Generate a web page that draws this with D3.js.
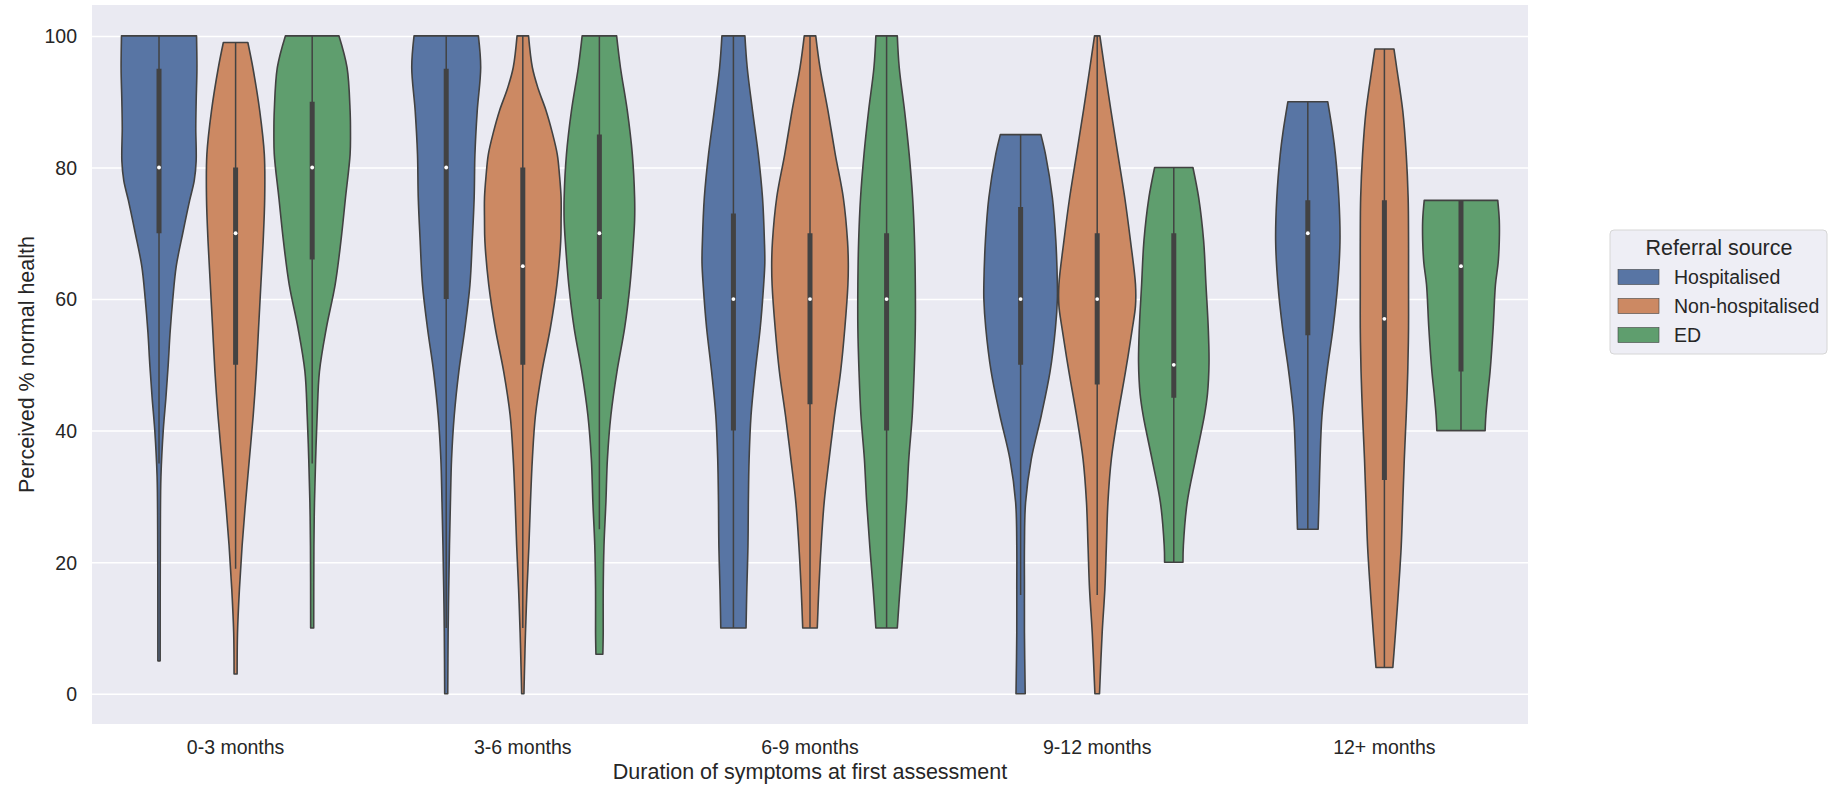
<!DOCTYPE html>
<html>
<head>
<meta charset="utf-8">
<script src="https://cdn.jsdelivr.net/npm/d3@7/dist/d3.min.js"></script>
<style>
  body { margin: 0; background: #fff; }
  svg { display: block; font-family: "Liberation Sans", Arial, sans-serif; }
</style>
</head>
<body>
<div id="chart"></div>
<script>
// Violin plot: perceived % normal health by symptom duration and referral source

const durations = ["0-3 months", "3-6 months", "6-9 months", "9-12 months", "12+ months"];
const sources = ["Hospitalised", "Non-hospitalised", "ED"];
const colors = ["#5875a4", "#cc8963", "#5f9e6e"];
const yTicks = [0, 20, 40, 60, 80, 100];

// box stats, [duration][source]
const q1s      = [[70, 50, 66], [60, 50, 60], [40, 44, 40], [50, 47, 45], [54.5, 32.5, 49]];
const medians  = [[80, 70, 80], [80, 65, 70], [60, 60, 60], [60, 60, 50], [70, 57, 65]];
const q3s      = [[95, 80, 90], [95, 80, 85], [73, 70, 70], [74, 70, 70], [75, 75, 75]];
const whiskLo  = [[35, 19, 35], [10, 10, 25], [10, 10, 10], [15, 15, 20], [25, 4, 40]];
const whiskHi  = [[100, 99, 100], [100, 100, 100], [100, 100, 100], [85, 100, 80], [90, 98, 75]];

// density outlines: [value, relative half width]
const dens03 = [
  [[5,.03],[25,.035],[33,.05],[40,.11],[45,.18],[50,.24],[55,.29],[60,.36],[65,.45],[70,.62],[75,.8],[78,.92],[81,.97],[86,.96],[90,.97],[95,.99],[100,.98]],
  [[3,.04],[9.3,.05],[15.9,.1],[22.5,.17],[29.1,.26],[35.7,.36],[42.3,.46],[49,.54],[55.6,.6],[62.2,.66],[68.8,.72],[75.4,.76],[82,.75],[88.6,.63],[95.2,.45],[99,.32]],
  [[10,.04],[22.5,.045],[29.1,.06],[35.7,.09],[42.3,.13],[49,.19],[55.6,.37],[62.2,.6],[68.8,.75],[75.4,.87],[82,.99],[85.3,1],[88.6,.99],[95.2,.91],[100,.7]]
];
const dens36 = [
  [[0,.04],[9.3,.05],[15.9,.065],[22.5,.085],[29.1,.11],[35.7,.14],[42.3,.21],[49,.33],[55.6,.49],[62.2,.62],[68.8,.68],[75.4,.73],[82,.75],[88.6,.81],[95.2,.9],[100,.84]],
  [[0,.03],[2.6,.04],[9.3,.07],[15.9,.11],[22.5,.16],[29.1,.2],[35.7,.25],[42.3,.33],[49,.5],[55.6,.72],[62.2,.89],[68.8,.99],[72,1],[75.4,1],[78.7,.96],[82,.9],[85.3,.77],[88.6,.61],[92,.4],[95.2,.25],[100,.15]],
  [[6,.09],[9.3,.1],[15.9,.1],[22.5,.12],[29.1,.17],[35.7,.21],[42.3,.3],[49,.46],[55.6,.66],[62.2,.8],[68.8,.89],[72,.92],[75.4,.92],[82,.86],[88.6,.73],[95.2,.55],[100,.45]]
];
const dens69 = [
  [[10,.33],[15.9,.35],[22.5,.38],[29.1,.39],[35.7,.41],[42.3,.46],[49,.57],[55.6,.7],[62.2,.79],[65.5,.82],[68.8,.81],[75.4,.76],[82,.65],[88.6,.5],[95.2,.36],[100,.3]],
  [[10,.19],[15.9,.23],[22.5,.29],[29.1,.37],[35.7,.5],[42.3,.64],[49,.8],[55.6,.91],[62.2,.99],[65.5,1],[68.8,.98],[75.4,.87],[82,.66],[88.6,.47],[95.2,.26],[100,.15]],
  [[10,.28],[15.9,.35],[22.5,.44],[29.1,.52],[35.7,.58],[42.3,.67],[49,.72],[55.6,.75],[62.2,.75],[68.8,.73],[75.4,.68],[82,.59],[88.6,.47],[95.2,.33],[100,.28]]
];
const dens912 = [
  [[0,.12],[9.3,.1],[15.9,.1],[22.5,.1],[29.1,.13],[35.7,.28],[42.3,.54],[49,.77],[55.6,.91],[60,.96],[62.2,.96],[68.8,.92],[75.4,.83],[82,.65],[85,.53]],
  [[0,.06],[9.3,.13],[15.9,.2],[22.5,.24],[29.1,.28],[35.7,.37],[42.3,.54],[49,.74],[55.6,.92],[59,1],[62.2,1],[68.8,.87],[75.4,.72],[82,.54],[88.6,.36],[95.2,.19],[100,.07]],
  [[20,.24],[22.5,.25],[29.1,.35],[35.7,.57],[42.3,.8],[45.6,.88],[50.3,.92],[55.6,.9],[62.2,.84],[68.8,.78],[75.4,.65],[80,.5]]
];
const dens12p = [
  [[25,.27],[29.1,.29],[35.7,.32],[42.3,.37],[49,.5],[55.6,.66],[62.2,.78],[68.8,.84],[75.4,.81],[82,.72],[85.3,.65],[90,.52]],
  [[4,.22],[9.3,.29],[15.9,.37],[22.5,.44],[29.1,.48],[35.7,.52],[42.3,.57],[49,.61],[55.6,.63],[62.2,.63],[68.8,.63],[75.4,.62],[82,.57],[88.6,.48],[95.2,.32],[98,.25]],
  [[40,.63],[42.3,.65],[45.6,.7],[49,.76],[55.6,.84],[62.2,.9],[65.5,.97],[68.8,1],[72,1],[75,.96]]
];
const densities = [dens03, dens36, dens69, dens912, dens12p];

const width = 1829, height = 788;
const margin = {top: 5, right: 301, bottom: 64, left: 92};
const innerW = width - margin.left - margin.right;
const innerH = height - margin.top - margin.bottom;
const gray = "#424242";
const textColor = "#262626";

const svg = d3.select("#chart")
  .append("svg")
  .attr("width", width)
  .attr("height", height);

const g = svg.append("g")
  .attr("transform", `translate(${margin.left},${margin.top})`);

const x = d3.scaleBand().domain(durations).range([0, innerW]);
const hue = d3.scaleBand().domain(sources)
  .range([x.bandwidth() * 0.1, x.bandwidth() * 0.9]);
const y = d3.scaleLinear().domain([-4.6, 104.7]).range([innerH, 0]);
const w = d3.scaleLinear().domain([0, 1]).range([0, hue.bandwidth() / 2]);

// background
g.append("rect")
  .attr("width", innerW)
  .attr("height", innerH)
  .attr("fill", "#eaeaf2");

// y axis + grid
const yAxis = g.append("g")
  .call(d3.axisLeft(y).tickValues(yTicks).tickSize(-innerW).tickPadding(15));
yAxis.select(".domain").remove();
yAxis.selectAll(".tick line").attr("stroke", "#fff").attr("stroke-width", 1.5);
yAxis.selectAll(".tick text")
  .attr("fill", textColor)
  .style("font-size", "19.5px")
  .attr("dy", "0.35em");

// x axis
const xAxis = g.append("g")
  .attr("transform", `translate(0,${innerH})`)
  .call(d3.axisBottom(x).tickSize(0).tickPadding(16));
xAxis.select(".domain").remove();
xAxis.selectAll(".tick text")
  .attr("fill", textColor)
  .style("font-size", "19.5px");

// violins
durations.forEach((dur, i) => {
  sources.forEach((src, j) => {
    const cx = x(dur) + hue(src) + hue.bandwidth() / 2;
    const pts = densities[i][j];

    const area = d3.area()
      .y(d => y(d[0]))
      .x0(d => cx - w(d[1]))
      .x1(d => cx + w(d[1]))
      .curve(d3.curveCatmullRom);

    g.append("path")
      .datum(pts)
      .attr("d", area)
      .attr("fill", colors[j])
      .attr("stroke", gray)
      .attr("stroke-width", 1.6)
      .attr("stroke-linejoin", "round");

    // whisker
    g.append("line")
      .attr("x1", cx).attr("x2", cx)
      .attr("y1", y(whiskLo[i][j])).attr("y2", y(whiskHi[i][j]))
      .attr("stroke", gray)
      .attr("stroke-width", 1.5);

    // box
    g.append("line")
      .attr("x1", cx).attr("x2", cx)
      .attr("y1", y(q1s[i][j])).attr("y2", y(q3s[i][j]))
      .attr("stroke", gray)
      .attr("stroke-width", 5);

    // median
    g.append("circle")
      .attr("cx", cx)
      .attr("cy", y(medians[i][j]))
      .attr("r", 1.9)
      .attr("fill", "#fff");
  });
});

// axis titles
svg.append("text")
  .attr("x", margin.left + innerW / 2)
  .attr("y", 779)
  .attr("text-anchor", "middle")
  .attr("fill", textColor)
  .style("font-size", "21.5px")
  .text("Duration of symptoms at first assessment");

svg.append("text")
  .attr("transform", `translate(34,${margin.top + innerH / 2}) rotate(-90)`)
  .attr("text-anchor", "middle")
  .attr("fill", textColor)
  .style("font-size", "21.5px")
  .text("Perceived % normal health");

// legend
const legend = svg.append("g").attr("transform", "translate(1610,230)");
legend.append("rect")
  .attr("width", 217)
  .attr("height", 124)
  .attr("rx", 4)
  .attr("fill", "#eeeef5")
  .attr("stroke", "#d6d6d6");

legend.append("text")
  .attr("x", 109)
  .attr("y", 25)
  .attr("text-anchor", "middle")
  .attr("fill", textColor)
  .style("font-size", "21.5px")
  .text("Referral source");

sources.forEach((src, j) => {
  const row = legend.append("g").attr("transform", `translate(0,${47 + j * 29})`);
  row.append("rect")
    .attr("x", 8)
    .attr("y", -7.5)
    .attr("width", 41)
    .attr("height", 15)
    .attr("fill", colors[j])
    .attr("stroke", gray)
    .attr("stroke-width", 0.6);
  row.append("text")
    .attr("x", 64)
    .attr("y", 7)
    .attr("fill", textColor)
    .style("font-size", "19.5px")
    .text(src);
});
</script>
</body>
</html>
